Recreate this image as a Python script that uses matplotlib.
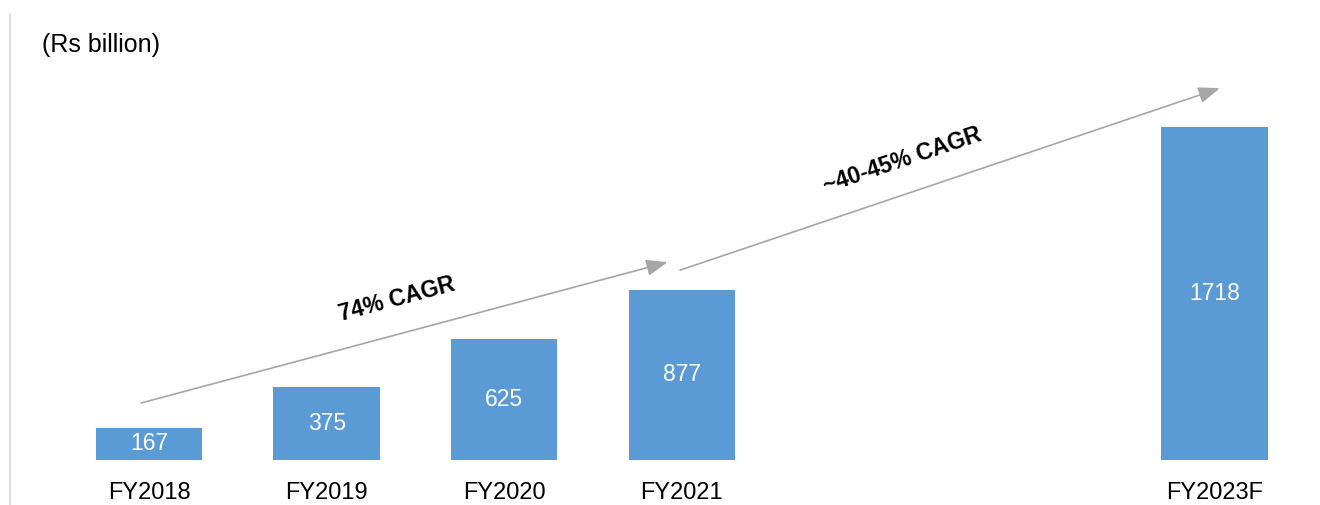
import matplotlib.pyplot as plt
from matplotlib.lines import Line2D

plt.rcParams['font.family'] = ['Liberation Sans', 'DejaVu Sans']

# market size, Rs billion
years = ['FY2018', 'FY2019', 'FY2020', 'FY2021', 'FY2023F']
positions = [0, 1, 2, 3, 6]
values = [167, 375, 625, 877, 1718]

fig = plt.figure(figsize=(13.2, 5.05), dpi=100)
ax = fig.add_axes([0.039, 0.0891, 0.955, 0.768])

bars = ax.bar(positions, values, width=0.6, color='#5B9BD5')
for p, v in zip(positions, values):
    ax.text(p, v / 2, str(v), ha='center', va='center', color='white', fontsize=16.5)

ax.set_xlim(-0.55, 6.55)
ax.set_ylim(0, 2000)
ax.set_xticks(positions)
ax.set_xticklabels(years, fontsize=17)
ax.tick_params(axis='x', length=0, pad=16)
ax.set_yticks([])
for s in ax.spines.values():
    s.set_visible(False)

# growth arrows
arrow = dict(arrowstyle='-|>,head_length=1.3,head_width=0.5', color='#a6a6a6', lw=1.2,
             shrinkA=0, shrinkB=0)
ax.annotate('', xy=(2.92, 1020), xytext=(-0.045, 294), arrowprops=arrow)
ax.annotate('', xy=(6.03, 1917), xytext=(2.99, 979), arrowprops=arrow)

ax.text(1.395, 830, '74% CAGR', rotation=15, rotation_mode='anchor', ha='center', va='center',
        fontsize=16.5, fontweight='bold')
ax.text(4.24, 1545, '~40-45% CAGR', rotation=18.6, rotation_mode='anchor', ha='center', va='center',
        fontsize=16.5, fontweight='bold')

fig.text(0.032, 0.91, '(Rs billion)', fontsize=18, ha='left', va='center')
fig.add_artist(Line2D([0.0072, 0.0072], [0.0, 0.972], color='#d9d9d9', lw=1.2))

fig.savefig('out.png', dpi=100)
